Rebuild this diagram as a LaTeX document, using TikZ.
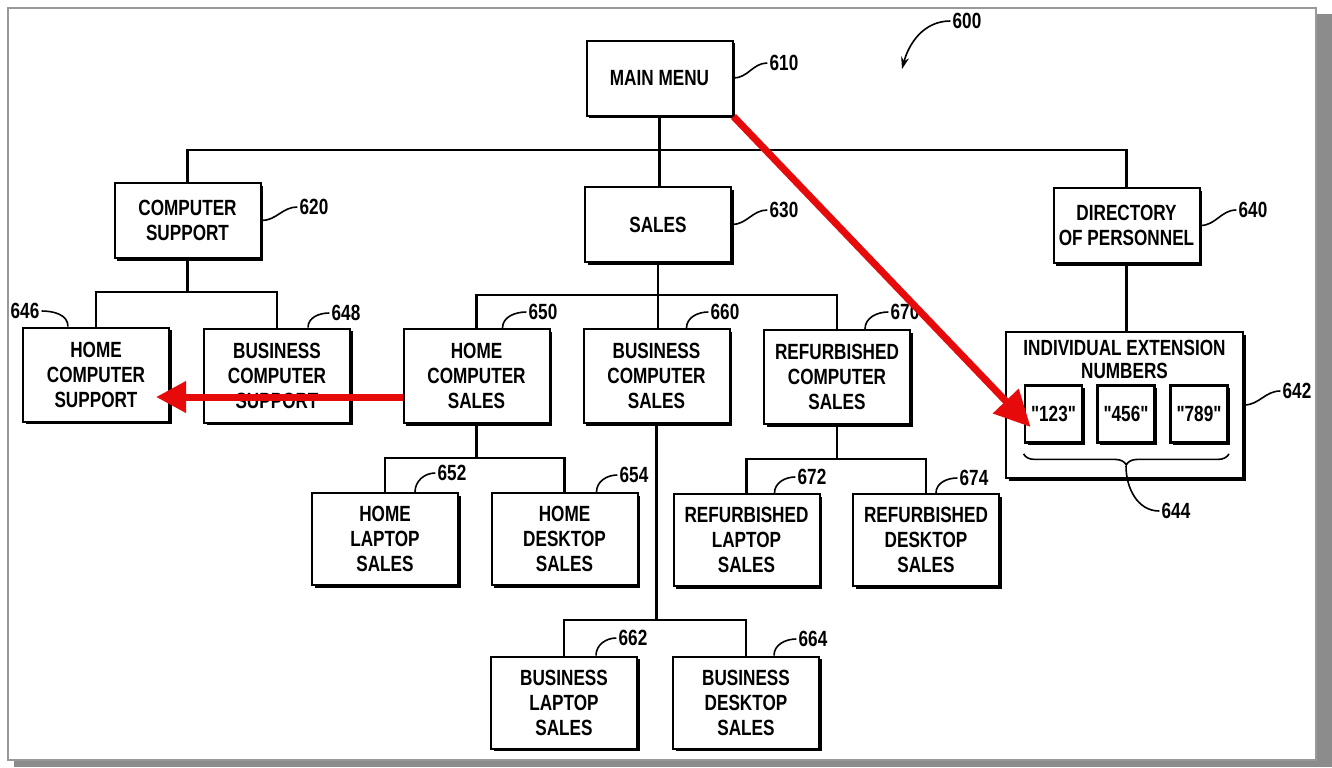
\documentclass[tikz,border=0pt]{standalone}
\usepackage{fontspec}
\setmainfont{Liberation Sans}[FakeStretch=0.78,Ligatures=TeXOff]
\usetikzlibrary{arrows.meta,shadows,decorations.pathreplacing}
\definecolor{markred}{RGB}{230,10,10}

\begin{document}
\begin{tikzpicture}[x=0.5pt,y=-0.5pt,font=\fontsize{11}{12.5}\selectfont\bfseries,
  menubox/.style={draw,line width=1pt,fill=white,align=center,inner sep=2pt,minimum width=73pt,
    drop shadow={shadow xshift=1.4pt,shadow yshift=-1.4pt,fill=black,opacity=1}},
  toprow/.style={menubox,minimum height=37.5pt},
  midrow/.style={menubox,minimum height=47pt},
  lowrow/.style={menubox,minimum height=46pt},
  extbox/.style={menubox,minimum width=28.5pt,minimum height=28.5pt,line width=1.4pt,inner sep=0pt},
  refnum/.style={inner sep=1pt},
  wire/.style={line width=1.1pt},
  lead/.style={line width=0.8pt},
  redarrow/.style={draw=markred,line width=3.5pt,-{Triangle[length=15pt,width=15pt]}}]
  \useasboundingbox (0,0) rectangle (1332,767);
  % frame with shadow
  \fill[black!45] (14,14) rectangle (1332,767);
  \draw[black!40,line width=1pt,fill=white] (8,8) rectangle (1316,760);

  % menu boxes
  \node[toprow] (mm) at (659.5,78) {MAIN MENU};
  \node[toprow] (cs) at (187.5,220.5) {COMPUTER\\SUPPORT};
  \node[toprow] (sales) at (658,224.5) {SALES};
  \node[toprow] (dir) at (1126.5,225.5) {DIRECTORY\\OF PERSONNEL};
  \node[midrow] (hcsup) at (96,374.5) {HOME\\COMPUTER\\SUPPORT};
  \node[midrow] (bcsup) at (277,375.5) {BUSINESS\\COMPUTER\\SUPPORT};
  \node[midrow] (hcs) at (476.5,376) {HOME\\COMPUTER\\SALES};
  \node[midrow] (bcs) at (656.5,376) {BUSINESS\\COMPUTER\\SALES};
  \node[midrow] (rcs) at (837,377) {REFURBISHED\\COMPUTER\\SALES};
  \node[lowrow] (hls) at (385,539) {HOME\\LAPTOP\\SALES};
  \node[lowrow] (hds) at (564.5,539) {HOME\\DESKTOP\\SALES};
  \node[lowrow] (rls) at (746.5,540) {REFURBISHED\\LAPTOP\\SALES};
  \node[lowrow] (rds) at (926,540) {REFURBISHED\\DESKTOP\\SALES};
  \node[lowrow] (bls) at (564,702.5) {BUSINESS\\LAPTOP\\SALES};
  \node[lowrow] (bds) at (746,702.5) {BUSINESS\\DESKTOP\\SALES};
  % extension numbers
  \node[menubox,minimum width=118.5pt,minimum height=73pt] (ext) at (1124.5,405) {};
  \node[anchor=north,align=center,inner sep=0pt,font=\fontsize{11}{11.5}\selectfont\bfseries] (extt)
    at ([yshift=-4.5pt]ext.north) {INDIVIDUAL EXTENSION\\NUMBERS};
  \node[extbox] (e123) at (1053.5,414) {"123"};
  \node[extbox] (e456) at (1126,414) {"456"};
  \node[extbox] (e789) at (1199,414) {"789"};

  % tree lines
  \coordinate (b1) at (659.5,150);
  \draw[wire] (mm.south) -- (mm.south |- sales.north);
  \draw[wire] (cs.north) |- (b1) -| (dir.north);
  \draw[wire] (dir.south) -- (dir.south |- ext.north);
  \coordinate (b2) at (187.5,292);
  \draw[wire] (cs.south) -- (b2);
  \draw[wire] (hcsup.north) |- (b2) -| (bcsup.north);
  \coordinate (b3) at (658,295);
  \draw[wire] (sales.south) -- (sales.south |- bcs.north);
  \draw[wire] (hcs.north) |- (b3) -| (rcs.north);
  \coordinate (b4) at (476.5,458);
  \draw[wire] (hcs.south) -- (b4);
  \draw[wire] (hls.north) |- (b4) -| (hds.north);
  \coordinate (b5) at (656.5,620);
  \draw[wire] (bcs.south) -- (b5);
  \draw[wire] (bls.north) |- (b5) -| (bds.north);
  \coordinate (b6) at (837,459);
  \draw[wire] (rcs.south) -- (b6);
  \draw[wire] (rls.north) |- (b6) -| (rds.north);

  % reference numerals
  \node[refnum] (l600) at (967,21) {600};
  \node[refnum] (l610) at (784,63) {610};
  \node[refnum] (l620) at (314,207) {620};
  \node[refnum] (l630) at (784,210) {630};
  \node[refnum] (l640) at (1253,210) {640};
  \node[refnum] (l642) at (1297,391) {642};
  \node[refnum] (l644) at (1176,511) {644};
  \node[refnum] (l646) at (25,311) {646};
  \node[refnum] (l648) at (346,313) {648};
  \node[refnum] (l650) at (543,312) {650};
  \node[refnum] (l660) at (725,312) {660};
  \node[refnum] (l670) at (905,312) {670};
  \node[refnum] (l652) at (452,473) {652};
  \node[refnum] (l654) at (634,475) {654};
  \node[refnum] (l662) at (633,638) {662};
  \node[refnum] (l664) at (813,639) {664};
  \node[refnum] (l672) at (812,477) {672};
  \node[refnum] (l674) at (974,478) {674};
  \coordinate (p600) at (902,69);
  \draw[lead,-{Stealth[length=6pt,width=4pt]}] (l600.west) to[out=180,in=75] (p600);
  \draw[lead] (mm.east) to[out=0,in=180] (l610.west);
  \draw[lead] (cs.east) to[out=0,in=180] (l620.west);
  \draw[lead] (sales.east) to[out=0,in=180] (l630.west);
  \draw[lead] (dir.east) to[out=0,in=180] (l640.west);
  \draw[lead] (ext.east) to[out=0,in=180] (l642.west);
  \draw[lead] (l646.east) to[out=0,in=90] ([xshift=-14pt]hcsup.north);
  \draw[lead] ([xshift=15.5pt]bcsup.north) to[out=90,in=180] (l648.west);
  \draw[lead] ([xshift=13pt]hcs.north) to[out=90,in=180] (l650.west);
  \draw[lead] ([xshift=15pt]bcs.north) to[out=90,in=180] (l660.west);
  \draw[lead] ([xshift=14pt]rcs.north) to[out=90,in=180] (l670.west);
  \draw[lead] ([xshift=15pt]hls.north) to[out=90,in=180] (l652.west);
  \draw[lead] ([xshift=16pt]hds.north) to[out=90,in=180] (l654.west);
  \draw[lead] ([xshift=16pt]bls.north) to[out=90,in=180] (l662.west);
  \draw[lead] ([xshift=14pt]bds.north) to[out=90,in=180] (l664.west);
  \draw[lead] ([xshift=14pt]rls.north) to[out=90,in=180] (l672.west);
  \draw[lead] ([xshift=5pt]rds.north) to[out=90,in=180] (l674.west);
  % brace under the numbers
  \draw[lead,decorate,decoration={brace,mirror,amplitude=5.5pt}]
    ([yshift=-5pt]e123.south west) -- ([yshift=-5pt]e789.south east);
  \coordinate (bt) at ([yshift=-11pt]e456.south);
  \draw[lead] (bt) to[out=-90,in=180] (l644.west);

  % highlighted paths
  \draw[redarrow,-{Triangle[length=18pt,width=17pt]}] (mm.south east) -- ([shift={(3.5pt,-6.5pt)}]e123.west);
  \draw[redarrow] ([yshift=-10.5pt]hcs.west) coordinate (rt) -- ([xshift=-7pt]hcsup.east |- rt);
\end{tikzpicture}
\end{document}
